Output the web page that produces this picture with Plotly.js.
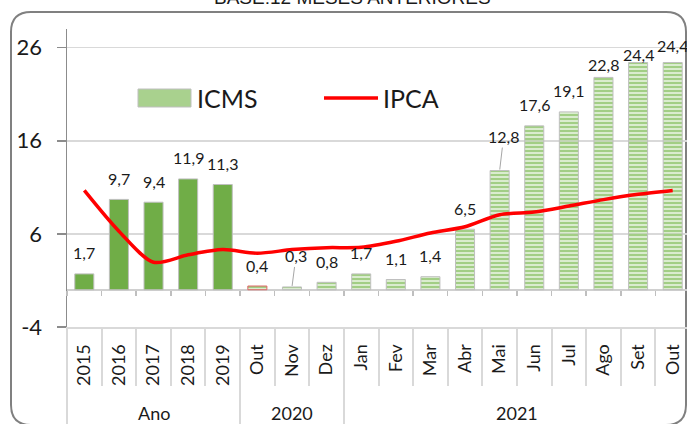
<!DOCTYPE html>
<html>
<head>
<meta charset="utf-8">
<script src="https://cdn.plot.ly/plotly-3.0.1.min.js"></script>
<style>
html,body{margin:0;padding:0;overflow:hidden;background:#fff;}
#chart{width:700px;height:424px;}
</style>
</head>
<body>
<div id="chart"></div>
<script>
// ---- data ----
const groups = ['Ano','Ano','Ano','Ano','Ano','2020','2020','2020','2021','2021','2021','2021','2021','2021','2021','2021','2021','2021'];
const categories = ['2015','2016','2017','2018','2019','Out','Nov','Dez','Jan','Fev','Mar','Abr','Mai','Jun','Jul','Ago','Set','Out'];
const icms = [1.7, 9.7, 9.4, 11.9, 11.3, 0.4, 0.3, 0.8, 1.7, 1.1, 1.4, 6.5, 12.8, 17.6, 19.1, 22.8, 24.4, 24.4];
const ipca = [10.67, 6.29, 2.95, 3.75, 4.31, 3.92, 4.31, 4.52, 4.56, 5.20, 6.10, 6.76, 8.06, 8.35, 8.99, 9.68, 10.25, 10.67];
const yTicks = [-4, 6, 16, 26];
const titleText = 'BASE:12 MESES ANTERIORES';

// ---- style ----
const FONT = 'Lato, "Open Sans", sans-serif';
const yMin = -4, yMax = 28;
const W = 700, H = 424;
const M = {l: 67, r: 10, t: 29, b: 97};
const plotW = W - M.l - M.r, plotH = H - M.t - M.b;
const px2x = p => (p - M.l) / plotW;
const px2y = p => (H - M.b - p) / plotH;

const n = categories.length;
const idx = categories.map((c, i) => i);
const annualCount = groups.filter(g => g === 'Ano').length;
const barColors = icms.map((v, i) => i < annualCount ? '#70AD47' : '#A2CE85');
const barShapes = icms.map((v, i) => i < annualCount ? '' : '-');
const barLines = icms.map((v, i) => i === annualCount ? '#E06666' : '#BFBFBF');

const bars = {
  type: 'bar', name: 'ICMS', x: idx, y: icms, width: 0.55,
  marker: {
    color: barColors,
    line: {color: barLines, width: 1},
    pattern: {shape: barShapes, bgcolor: '#FFFFFF', fgcolor: '#A2CE85', size: 4, solidity: 0.7, fillmode: 'replace'}
  },
  showlegend: false, hoverinfo: 'skip'
};
const line = {
  type: 'scatter', mode: 'lines', name: 'IPCA', x: idx, y: ipca,
  line: {color: '#FF0000', width: 3.5, shape: 'spline', smoothing: 0.8},
  showlegend: false, hoverinfo: 'skip'
};
// group structure
const groupNames = [], groupStart = [], groupEnd = [];
groups.forEach((g, i) => {
  if (!groupNames.length || groupNames[groupNames.length - 1] !== g) { groupNames.push(g); groupStart.push(i); groupEnd.push(i); }
  else groupEnd[groupEnd.length - 1] = i;
});
const catBounds = [-0.5].concat(idx.map(i => i + 0.5));
const groupBounds = [-0.5].concat(groupEnd.map(e => e + 0.5));
const dummy = ax => ({type: 'scatter', x: [null], y: [null], xaxis: ax, yaxis: 'y', showlegend: false, hoverinfo: 'skip'});

// data labels
const labelShift = {6: 31, 12: 34, 15: 13, 16: 8, 17: 17};
const annotations = icms.map((v, i) => {
  const s = labelShift[i] !== undefined ? labelShift[i] : 21;
  const lead = (i === 6 || i === 12);
  const a = {
    x: i, y: v, xref: 'x', yref: 'y',
    text: v.toFixed(1).replace('.', ','),
    font: {family: FONT, size: 16, color: '#1a1a1a'},
    xanchor: 'center', yanchor: 'middle'
  };
  if (lead) Object.assign(a, {showarrow: true, arrowhead: 0, arrowwidth: 1, arrowcolor: '#A6A6A6', ax: 4, ay: -s, standoff: 1});
  else Object.assign(a, {showarrow: false, yshift: s});
  return a;
});
// group labels
groupNames.forEach((g, k) => {
  annotations.push({xref: 'x', yref: 'paper', x: (groupStart[k] + groupEnd[k]) / 2, y: px2y(413),
    xanchor: 'center', yanchor: 'middle', text: g, showarrow: false,
    font: {family: FONT, size: 18, color: '#1a1a1a'}});
});
// title (partially outside, as in the source image)
annotations.push({
  xref: 'paper', yref: 'paper', x: px2x(352), y: px2y(-2), xanchor: 'center', yanchor: 'middle',
  text: titleText, showarrow: false,
  font: {family: '"Liberation Sans Narrow", "Liberation Sans", Arial, sans-serif', size: 19, color: '#1a1a1a'}
});
// legend
annotations.push({xref: 'paper', yref: 'paper', x: px2x(195), y: px2y(98), xanchor: 'left', yanchor: 'middle',
  text: 'ICMS', showarrow: false, font: {family: FONT, size: 25, color: '#1a1a1a'}});
annotations.push({xref: 'paper', yref: 'paper', x: px2x(381), y: px2y(98), xanchor: 'left', yanchor: 'middle',
  text: 'IPCA', showarrow: false, font: {family: FONT, size: 25, color: '#1a1a1a'}});

function framePath(x0, y0, x1, y1, r) {
  const X = px2x, Y = px2y;
  return `M ${X(x0 + r)} ${Y(y0)} L ${X(x1 - r)} ${Y(y0)} Q ${X(x1)} ${Y(y0)} ${X(x1)} ${Y(y0 + r)} ` +
         `L ${X(x1)} ${Y(y1 - r)} Q ${X(x1)} ${Y(y1)} ${X(x1 - r)} ${Y(y1)} ` +
         `L ${X(x0 + r)} ${Y(y1)} Q ${X(x0)} ${Y(y1)} ${X(x0)} ${Y(y1 - r)} ` +
         `L ${X(x0)} ${Y(y0 + r)} Q ${X(x0)} ${Y(y0)} ${X(x0 + r)} ${Y(y0)} Z`;
}
const shapes = [
  {type: 'path', xref: 'paper', yref: 'paper', path: framePath(11, 12, 686, 425, 20),
   line: {color: '#808080', width: 2}, fillcolor: 'rgba(0,0,0,0)', layer: 'below'},
  {type: 'rect', xref: 'paper', yref: 'paper', x0: px2x(138), x1: px2x(191), y0: px2y(107), y1: px2y(89),
   fillcolor: '#A9D18E', line: {color: '#BFBFBF', width: 1}},
  {type: 'line', xref: 'paper', yref: 'paper', x0: px2x(324), x1: px2x(378), y0: px2y(98), y1: px2y(98),
   line: {color: '#FF0000', width: 3.5}}
];

const baseX = {type: 'linear', range: [-0.5, n - 0.5], showgrid: false, zeroline: false, fixedrange: true};
const layout = {
  width: W, height: H, margin: M,
  paper_bgcolor: '#FFFFFF', plot_bgcolor: 'rgba(0,0,0,0)',
  font: {family: FONT, color: '#1a1a1a'},
  xaxis: Object.assign({}, baseX, {
    tickvals: idx, ticktext: categories, tickangle: -90, ticks: '',
    tickfont: {family: FONT, size: 18, color: '#1a1a1a'},
    showline: true, linecolor: '#D9D9D9', linewidth: 2, ticklabelstandoff: 8
  }),
  xaxis2: Object.assign({}, baseX, {
    overlaying: 'x', anchor: 'y', side: 'bottom',
    tickvals: groupBounds, ticks: 'outside', ticklen: 100, tickwidth: 2, tickcolor: '#D9D9D9',
    showticklabels: false, showline: false
  }),
  xaxis3: Object.assign({}, baseX, {
    overlaying: 'x', anchor: 'y', side: 'bottom',
    tickvals: catBounds, ticks: 'outside', ticklen: 58, tickwidth: 2, tickcolor: '#D9D9D9',
    showticklabels: false, showline: false
  }),
  xaxis4: Object.assign({}, baseX, {
    overlaying: 'x', anchor: 'free', position: (0 - yMin) / (yMax - yMin), side: 'bottom',
    tickvals: catBounds, ticks: 'outside', ticklen: 5, tickwidth: 1.5, tickcolor: '#BFBFBF',
    showticklabels: false, showline: false
  }),
  yaxis: {
    range: [yMin, yMax], tickvals: yTicks, ticktext: yTicks.map(String), fixedrange: true,
    showgrid: true, gridcolor: '#D9D9D9', gridwidth: 1.5,
    zeroline: true, zerolinecolor: '#D0D0D0', zerolinewidth: 1.5,
    showline: true, linecolor: '#8C8C8C', linewidth: 1.5,
    ticks: 'outside', ticklen: 9, tickcolor: '#8C8C8C', tickwidth: 1.5,
    tickfont: {family: FONT, size: 22, color: '#1a1a1a'},
    ticklabelstandoff: 10
  },
  annotations: annotations,
  shapes: shapes
};

Plotly.newPlot('chart', [bars, line, dummy('x2'), dummy('x3'), dummy('x4')], layout, {displayModeBar: false, staticPlot: true});
</script>
</body>
</html>
